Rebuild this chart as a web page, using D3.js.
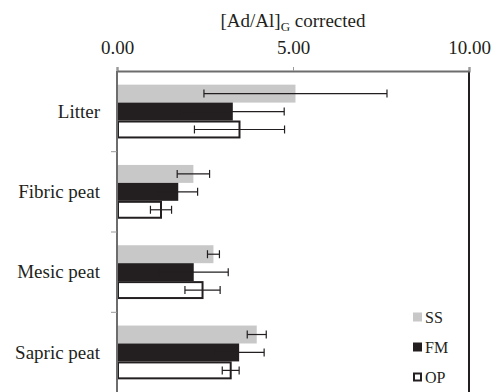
<!DOCTYPE html>
<html>
<head>
<meta charset="utf-8">
<script src="https://cdn.jsdelivr.net/npm/d3@7"></script>
<style>
  body { margin: 0; background: #fff; }
  text { font-family: "Liberation Serif", "Times New Roman", serif; fill: #231f20; }
</style>
</head>
<body>
<div class="chart"></div>
<script>
// data
const categories = ["Litter", "Fibric peat", "Mesic peat", "Sapric peat"];
const seriesNames = ["SS", "FM", "OP"];
const ssValues = [5.07, 2.17, 2.74, 3.97];
const ssErrors = [2.60, 0.46, 0.17, 0.27];
const fmValues = [3.29, 1.74, 2.18, 3.47];
const fmErrors = [1.46, 0.55, 0.98, 0.71];
const opValues = [3.48, 1.25, 2.43, 3.23];
const opErrors = [1.28, 0.30, 0.50, 0.24];
const xTicks = [0, 5, 10];

const seriesValues = { SS: ssValues, FM: fmValues, OP: opValues };
const seriesErrors = { SS: ssErrors, FM: fmErrors, OP: opErrors };
const fills = { SS: "#c8c8c8", FM: "#231f20", OP: "#ffffff" };

const W = 492, H = 392;
const margin = {top: 71, left: 117, right: 23};
const innerW = W - margin.left - margin.right;
const innerH = 322;

// one record per bar
const rows = [];
categories.forEach((c, i) => {
  seriesNames.forEach(s => {
    rows.push({cat: c, series: s, value: seriesValues[s][i], err: seriesErrors[s][i]});
  });
});

const svg = d3.select(".chart").append("svg")
  .attr("width", W)
  .attr("height", H);

const g = svg.append("g")
  .attr("transform", "translate(" + margin.left + "," + margin.top + ")");

const x = d3.scaleLinear()
  .domain([0, 10])
  .range([0, innerW]);

const y0 = d3.scaleBand()
  .domain(categories)
  .range([0, innerH])
  .paddingInner(0.33)
  .paddingOuter(0.17);

const y1 = d3.scaleBand()
  .domain(seriesNames)
  .range([0, y0.bandwidth()]);

// plot area frame (right side darker)
g.append("line")
  .attr("x1", innerW).attr("x2", innerW)
  .attr("y1", 0).attr("y2", innerH + 10)
  .attr("stroke", "#231f20")
  .attr("stroke-width", 2);

// bars
const bars = g.selectAll(".bar")
  .data(rows)
  .enter().append("rect")
  .attr("class", "bar")
  .attr("x", x(0) + 1)
  .attr("y", d => y0(d.cat) + y1(d.series) + (d.series === "OP" ? 1 : 0))
  .attr("width", d => x(d.value) - x(0) - 1)
  .attr("height", d => y1.bandwidth() - (d.series === "OP" ? 2 : 0))
  .attr("fill", d => fills[d.series])
  .attr("stroke", d => d.series === "OP" ? "#231f20" : "none")
  .attr("stroke-width", 2);

// error bars
const errG = g.selectAll(".err")
  .data(rows)
  .enter().append("g")
  .attr("class", "err")
  .attr("transform", d => "translate(0," + (y0(d.cat) + y1(d.series) + y1.bandwidth() / 2) + ")")
  .attr("stroke", "#231f20")
  .attr("stroke-width", 1.2);

errG.append("line")
  .attr("x1", d => x(d.value - d.err))
  .attr("x2", d => x(d.value + d.err));

errG.append("line")
  .attr("x1", d => x(d.value - d.err))
  .attr("x2", d => x(d.value - d.err))
  .attr("y1", -4).attr("y2", 4);

errG.append("line")
  .attr("x1", d => x(d.value + d.err))
  .attr("x2", d => x(d.value + d.err))
  .attr("y1", -4).attr("y2", 4);

// top axis
const xAxis = g.append("g")
  .attr("class", "x axis")
  .call(d3.axisTop(x).tickValues(xTicks).tickFormat(d3.format(".2f")).tickSize(4).tickPadding(13));
xAxis.select(".domain").attr("stroke", "#6d6d6d").attr("stroke-width", 2);
xAxis.selectAll(".tick line").attr("stroke", "#999");
xAxis.selectAll("text")
  .attr("font-size", 19)
  .attr("font-family", "Liberation Serif")
  .attr("fill", "#231f20");

// left axis, labels at band centres
const yAxis = g.append("g")
  .attr("class", "y axis")
  .call(d3.axisLeft(y0).tickSize(0).tickPadding(17));
yAxis.select(".domain").remove();
yAxis.selectAll("text")
  .attr("font-size", 19)
  .attr("font-family", "Liberation Serif")
  .attr("fill", "#231f20");

g.append("line")
  .attr("x1", 0).attr("x2", 0)
  .attr("y1", 0).attr("y2", innerH + 10)
  .attr("stroke", "#6d6d6d")
  .attr("stroke-width", 2);

// tick marks on category boundaries
const step = y0.step();
g.selectAll(".ytick")
  .data(categories.slice(1))
  .enter().append("line")
  .attr("class", "ytick")
  .attr("x1", -6).attr("x2", 0)
  .attr("y1", d => y0(d) - step * y0.paddingInner() / 2)
  .attr("y2", d => y0(d) - step * y0.paddingInner() / 2)
  .attr("stroke", "#999");

// title
const title = svg.append("text")
  .attr("x", margin.left + x(5))
  .attr("y", 27)
  .attr("text-anchor", "middle")
  .attr("font-size", 19);
title.append("tspan").text("[Ad/Al]");
title.append("tspan").attr("font-size", 13).attr("dy", 4).text("G");
title.append("tspan").attr("dy", -4).text(" corrected");

// legend
const legend = svg.selectAll(".legend")
  .data(seriesNames)
  .enter().append("g")
  .attr("class", "legend")
  .attr("transform", (d, i) => "translate(413," + (317 + i * 30) + ")");

legend.append("rect")
  .attr("x", d => d === "OP" ? 1 : 0)
  .attr("y", d => d === "OP" ? -3.5 : -4.5)
  .attr("width", d => d === "OP" ? 7 : 9)
  .attr("height", d => d === "OP" ? 7 : 9)
  .attr("fill", d => fills[d])
  .attr("stroke", d => d === "OP" ? "#231f20" : "none")
  .attr("stroke-width", 2);

legend.append("text")
  .attr("x", 12)
  .attr("dy", "0.35em")
  .attr("font-size", 16)
  .text(d => d);
</script>
</body>
</html>
